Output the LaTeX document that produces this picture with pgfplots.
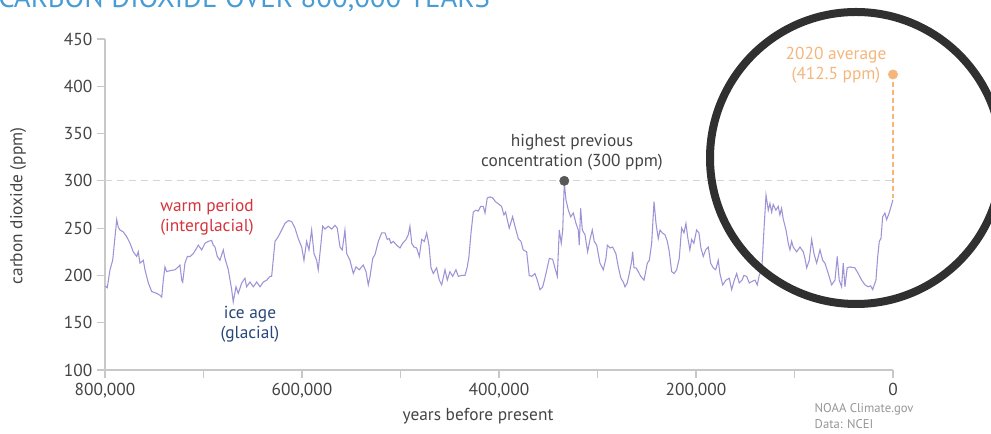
\documentclass[border=0pt]{standalone}
\usepackage{fontspec}
\setmainfont{PT Sans}
\usepackage{pgfplots}
\usepackage{pgfplotstable}
\pgfplotsset{compat=1.18}

\definecolor{curveC}{RGB}{156,148,214}
\definecolor{titleC}{RGB}{72,156,214}
\definecolor{warmC}{RGB}{212,52,60}
\definecolor{iceC}{RGB}{40,70,122}
\definecolor{orangeC}{RGB}{245,182,124}
\definecolor{textC}{RGB}{68,68,68}
\definecolor{dotC}{RGB}{88,88,88}
\definecolor{axisC}{RGB}{200,200,200}
\definecolor{gridC}{RGB}{212,212,212}
\definecolor{ringC}{RGB}{48,48,48}
\definecolor{creditC}{RGB}{150,150,150}

% ice-core record, age in thousands of years before present
\pgfplotstableread{
age ppm
800.0 189
797.7 187
794.9 206
792.2 216
789.8 241
788.1 259
786.5 251
784.8 248
781.4 246
778.0 241
774.6 234
771.3 225
767.8 220
766.2 225
764.5 213
761.1 216
759.4 206
756.0 192
752.6 183
747.5 181
744.2 179
742.4 177
740.8 195
739.1 209
737.4 204
734.0 205
728.9 206
725.6 209
723.9 211
722.1 195
721.1 193
718.8 213
716.4 220
713.7 220
710.4 223
706.9 229
705.3 232
701.8 227
698.5 234
695.1 236
691.7 237
690.1 232
688.3 230
686.0 220
683.3 216
679.9 227
678.2 218
674.8 206
671.4 185
669.8 172
667.0 188
664.7 181
661.2 192
657.9 197
656.2 188
652.8 193
649.4 188
646.0 193
642.6 188
639.3 193
635.8 195
632.5 199
630.8 199
627.4 236
624.1 241
620.6 248
617.3 255
613.9 258
610.5 257
607.1 250
603.8 239
600.3 230
598.0 216
595.3 236
592.9 227
590.2 248
587.8 223
585.1 216
583.5 206
581.1 230
579.0 252
576.7 249
573.3 252
569.9 249
566.5 253
564.2 250
561.4 230
559.1 227
556.4 248
554.6 223
551.3 216
547.9 202
545.2 209
541.8 206
537.8 211
535.0 204
532.7 190
530.9 199
528.2 218
525.9 222
522.5 236
519.1 245
515.7 245
513.4 238
511.4 239
509.7 234
507.3 236
503.9 232
500.5 229
497.8 234
494.4 238
492.1 243
490.4 252
488.6 234
486.3 230
483.6 229
480.9 220
478.5 238
475.8 236
473.4 245
471.1 232
469.0 208
466.7 202
463.3 208
460.6 195
458.2 190
454.8 206
452.5 195
449.8 204
447.0 199
443.7 206
441.3 199
437.9 200
434.5 200
432.2 209
430.5 220
428.4 245
426.1 267
423.4 269
421.1 268
418.6 273
416.0 273
414.2 266
411.9 282
409.1 283
406.4 282
403.6 278
399.7 275
397.4 273
395.0 264
393.3 267
391.6 259
389.6 250
386.2 262
383.8 252
380.4 239
377.7 236
375.4 227
371.9 225
369.3 200
366.8 199
363.5 202
361.1 195
358.4 185
355.6 188
352.3 202
348.9 218
345.5 217
343.2 208
340.8 199
338.8 248
336.8 234
335.3 248
333.7 298
332.0 280
329.6 269
327.2 262
324.6 266
321.8 255
319.5 248
318.5 232
317.1 271
315.4 248
312.7 243
310.0 225
307.6 238
305.3 248
303.3 236
300.8 232
297.5 213
294.1 206
291.4 218
290.0 232
287.3 229
284.6 230
281.3 223
278.9 209
276.2 197
273.8 193
272.1 188
269.8 192
267.7 202
265.3 215
264.3 225
262.9 208
260.9 208
258.6 204
256.1 199
252.8 195
250.7 206
249.4 213
247.4 216
245.0 234
242.6 278
240.6 255
238.3 239
236.5 248
234.2 245
231.5 243
229.1 236
227.1 225
224.7 204
222.3 202
219.6 206
217.0 218
214.6 250
212.2 245
210.2 255
208.5 241
206.2 227
204.4 238
202.1 234
199.4 248
197.0 245
195.0 229
192.6 220
190.2 227
187.5 230
185.1 213
182.5 208
180.0 206
177.4 216
175.7 202
172.9 190
169.6 195
166.2 197
163.8 185
161.1 195
158.7 202
156.1 192
153.3 195
151.3 200
148.6 199
145.9 192
142.5 194
140.1 195
137.8 190
135.8 200
133.3 206
132.3 223
131.0 248
128.9 285
126.6 269
124.9 276
123.2 267
121.6 275
118.9 269
116.5 273
114.8 264
113.1 271
111.5 260
108.6 248
106.3 234
104.6 227
102.9 236
101.3 230
97.8 225
94.4 230
91.1 225
89.4 218
87.6 208
85.0 216
82.6 238
80.2 223
77.5 213
74.1 227
71.4 216
69.1 213
65.7 202
62.3 190
58.9 195
56.6 220
54.6 195
52.2 188
50.5 213
48.8 188
46.5 208
43.7 209
38.7 208
35.3 202
31.8 195
28.4 190
25.1 188
22.7 189
20.6 185
19.3 189
17.3 195
15.5 220
13.9 236
12.2 239
10.5 262
8.2 266
6.5 259
3.9 266
1.4 275
0.1 280
}\codata

\begin{document}
\begin{tikzpicture}[x=0.75pt,y=0.75pt]
\path[use as bounding box, clip] (0,0) rectangle (991,434);

\begin{axis}[
    at={(78.75pt,48pt)}, anchor=south west,
    scale only axis,
    width=591pt, height=248.25pt,
    x dir=reverse,
    xmin=0, xmax=800, ymin=100, ymax=450,
    xtick={0,200,400,600,800},
    xticklabels={0,{200,000},{400,000},{600,000},{800,000}},
    minor xtick={100,300,500,700},
    ytick={100,150,...,450},
    axis x line=bottom, axis y line=left,
    axis line style={-, draw=axisC, line width=0.8pt},
    tick align=outside,
    major tick length=6pt, minor tick length=6pt,
    tick style={draw=axisC, line width=0.8pt},
    ticklabel style={font=\fontsize{13}{15}\selectfont, text=textC},
    /pgf/number format/assume math mode=true,
    clip=false,
]
\draw[gridC, line width=0.8pt, dash pattern=on 5pt off 4pt] (axis cs:800,300) -- (axis cs:0,300);
\draw[orangeC, line width=0.9pt, dash pattern=on 3.5pt off 2.5pt] (axis cs:0,412.5) -- (axis cs:0,282);
\addplot[curveC, line width=0.8pt] table[x=age, y=ppm]{\codata};
\addplot[only marks, orangeC, mark=*, mark size=3.5pt, mark options={draw=orangeC, fill=orangeC}] coordinates {(0,412.5)};
\addplot[only marks, dotC, mark=*, mark size=3.5pt, mark options={draw=dotC, fill=dotC}] coordinates {(333.7,300)};
\end{axis}

% annotations
\begin{scope}[font=\fontsize{13}{15}\selectfont]
\node[text=textC, align=center] at (572, 434-152) {highest previous\\concentration (300 ppm)};
\node[text=warmC, align=center] at (207, 434-217) {warm period\\(interglacial)};
\node[text=iceC, align=center] at (250, 434-324) {ice age\\(glacial)};
\node[text=orangeC, align=center] at (836, 434-65) {2020 average\\(412.5 ppm)};
\node[text=textC, rotate=90] at (18, 434-206) {carbon dioxide (ppm)};
\node[text=textC] at (478, 434-416) {years before present};
\end{scope}
\node[text=creditC, align=left, anchor=west, font=\fontsize{9.5}{11.5}\selectfont] at (810, 434-416) {NOAA Climate.gov\\Data: NCEI};

% title, cut off by the top edge
\node[anchor=base west, inner sep=0pt, text=titleC, font=\fontsize{21.6}{24}\selectfont] at (-2, 434-8) {CARBON DIOXIDE OVER 800,000 YEARS};

% highlight ring
\draw[ringC, line width=6pt] (856, 434-158) circle (146);
\end{tikzpicture}
\end{document}
